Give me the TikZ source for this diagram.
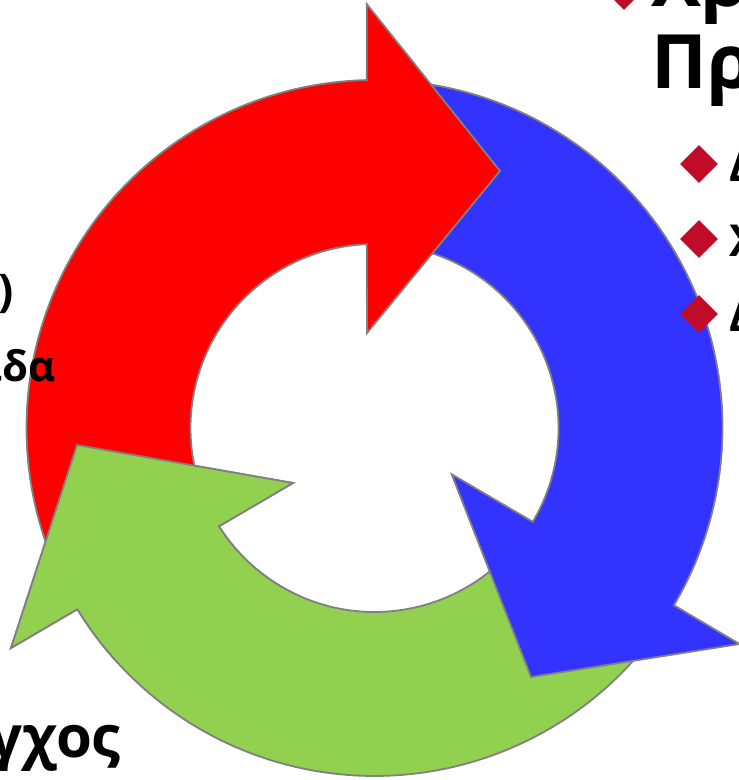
\documentclass[tikz,border=0pt]{standalone}
\usepackage{fontspec}
\setmainfont{Open Sans}
\usetikzlibrary{shapes.geometric}
\definecolor{arrowred}{RGB}{255,0,0}
\definecolor{arrowblue}{RGB}{51,51,255}
\definecolor{arrowgreen}{RGB}{146,208,80}
\definecolor{edgegray}{RGB}{128,128,128}
\definecolor{bulletred}{RGB}{192,12,40}
\begin{document}
\begin{tikzpicture}[x=1pt,y=1pt,
  arrowshape/.style={draw=edgegray, line width=1.8pt, line join=miter},
  bulletbig/.style={diamond, fill=bulletred, inner sep=0pt, minimum width=60pt, minimum height=60pt},
  bulletsmall/.style={diamond, fill=bulletred, inner sep=0pt, minimum width=38pt, minimum height=38pt},
  titletext/.style={font=\bfseries\fontsize{75}{80}\selectfont, inner sep=0pt, anchor=base west},
  subtext/.style={font=\bfseries\fontsize{44}{48}\selectfont, inner sep=0pt, anchor=base west},
  lefttext/.style={font=\bfseries\fontsize{#1}{#1}\selectfont, inner sep=0pt, anchor=base east}
]
\useasboundingbox (0,0) rectangle (739,780);
\begin{scope}[shift={(374.5,352)}]
  % green arrow (bottom, pointing up-left)
  \draw[arrowshape, fill=arrowgreen] (-35.6:348) arc[start angle=-35.6, end angle=-148.62, radius=348]
    -- (-363.5,-220) -- (-297.5,-17) -- (-81.5,-55) -- (-147.71:184)
    arc[start angle=-147.71, end angle=-35.6, radius=184] -- cycle;
  % blue arrow (right, pointing down)
  \draw[arrowshape, fill=arrowblue] (86:348) arc[start angle=86, end angle=-30.63, radius=348]
    -- (365,-216) -- (156.5,-249) -- (77.2,-46.3) -- (-30.65:184)
    arc[start angle=-30.65, end angle=86, radius=184] -- cycle;
  % red arrow (left, pointing right at top)
  \draw[arrowshape, fill=arrowred] (205:348) arc[start angle=205, end angle=91.28, radius=348]
    -- (-7.8,424) -- (125.5,257) -- (-7.5,95) -- (92.43:184)
    arc[start angle=92.43, end angle=205, radius=184] -- cycle;
  % green arrow head again, over the red tail
  \begin{scope}
    \clip (-374.5,-232) rectangle (-74.5,-2);
    \draw[arrowshape, fill=arrowgreen] (-35.6:348) arc[start angle=-35.6, end angle=-148.62, radius=348]
      -- (-363.5,-220) -- (-297.5,-17) -- (-81.5,-55) -- (-147.71:184)
      arc[start angle=-147.71, end angle=-35.6, radius=184] -- cycle;
  \end{scope}
\end{scope}
% texts on the right
\node[bulletbig] (b1) at (624,800) {};
\node[titletext] (t1) at (651,773) {Χρ};
\node[titletext] (t2) at (651,691) {Πρ};
\node[bulletsmall] (b2) at (699,616) {};
\node[bulletsmall] (b3) at (699,541) {};
\node[bulletsmall] (b4) at (699,466) {};
\node[subtext] (s1) at (729,598) {Δ};
\node[subtext] (s2) at (729,523) {Χ};
\node[subtext] (s3) at (729,448) {Δ};
% texts on the left
\node[lefttext=45] (l1) at (14,473) {)};
\node[lefttext=42] (l2) at (56,398) {ιδα};
\node[lefttext=58] (l3) at (121,22) {γχος};
\end{tikzpicture}
\end{document}
